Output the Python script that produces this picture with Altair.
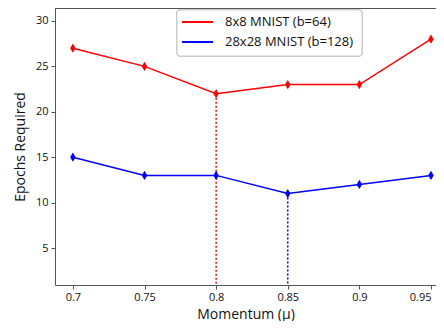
import altair as alt
import pandas as pd

momentum = [0.7, 0.75, 0.8, 0.85, 0.9, 0.95]
epochs_8x8 = [27, 25, 22, 23, 23, 28]
epochs_28x28 = [15, 13, 13, 11, 12, 13]
series_names = ["8x8 MNIST (b=64)", "28x28 MNIST (b=128)"]
series_colors = ["#ff0000", "#0000ff"]
best_momentum = [0.8, 0.85]
best_epochs = [22, 11]

Y_MIN, Y_MAX = 0.93, 31.43
X_MIN, X_MAX = 0.6875, 0.9535
W, H = 381, 277

rows = []
for m, a, b in zip(momentum, epochs_8x8, epochs_28x28):
    rows.append({"m": m, "e": a, "s": series_names[0]})
    rows.append({"m": m, "e": b, "s": series_names[1]})
df = pd.DataFrame(rows)
vdf = pd.DataFrame({"m": best_momentum, "e": best_epochs, "e0": [Y_MIN, Y_MIN], "s": series_names})

FONT = "Open Sans"
color = alt.Color("s:N", scale=alt.Scale(domain=series_names, range=series_colors), legend=None)
x = alt.X("m:Q", scale=alt.Scale(domain=[X_MIN, X_MAX], nice=False, zero=False),
          axis=alt.Axis(values=momentum, format="~g", title="Momentum (μ)", grid=False,
                        labelFont=FONT, labelFontSize=11, labelColor="#111", titleFont=FONT,
                        titleFontSize=14, titleFontWeight="normal", titleColor="#111",
                        domainColor="#555", tickColor="#555", tickSize=4, labelPadding=2,
                        titlePadding=5,
                        labelAlign={"condition": {"test": "datum.value > 0.94", "value": "right"},
                                    "value": "center"}))
y = alt.Y("e:Q", scale=alt.Scale(domain=[Y_MIN, Y_MAX], nice=False, zero=False),
          axis=alt.Axis(values=[5, 10, 15, 20, 25, 30], title="Epochs Required", grid=False,
                        labelFont=FONT, labelFontSize=11, labelColor="#111", titleFont=FONT,
                        titleFontSize=14, titleFontWeight="normal", titleColor="#111",
                        domainColor="#555", tickColor="#555", tickSize=4, labelPadding=3,
                        titlePadding=8))

lines = alt.Chart(df).mark_line(strokeWidth=1.5).encode(x=x, y=y, color=color, detail="s:N")
points = alt.Chart(df).mark_point(shape="M0,-1L0.6,0L0,1L-0.6,0Z", filled=True, size=85, opacity=1).encode(
    x="m:Q", y="e:Q", color=color)
vlines = alt.Chart(vdf).mark_rule(strokeDash=[2, 2], strokeWidth=1.5).encode(
    x="m:Q", y="e:Q", y2="e0:Q", color=color)
top = alt.Chart(df).mark_rule(color="#555", strokeWidth=1).encode(
    x=alt.value(0), x2=alt.value(W), y=alt.value(0))

# manual legend (matplotlib-style box)
LX, LY = 122, 2
box = alt.Chart(df).mark_rect(fill="white", stroke="#cccccc", strokeWidth=1, cornerRadius=3).encode(
    x=alt.value(LX), x2=alt.value(LX + 185), y=alt.value(LY), y2=alt.value(LY + 46))
leg_layers = [box]
for i, (name, col) in enumerate(zip(series_names, series_colors)):
    yy = LY + 12 + 20 * i
    leg_layers.append(alt.Chart(df).mark_rule(color=col, strokeWidth=2).encode(
        x=alt.value(LX + 5), x2=alt.value(LX + 36), y=alt.value(yy)))
    leg_layers.append(alt.Chart(pd.DataFrame({"t": [name]})).mark_text(
        font=FONT, fontSize=13, color="#111", align="left", baseline="middle").encode(
        text="t:N", x=alt.value(LX + 48), y=alt.value(yy)))

chart = alt.layer(vlines, lines, points, top, *leg_layers).properties(
    width=W, height=H, autosize=alt.AutoSizeParams(type="none"),
    padding={"left": 47, "top": 0, "right": 0, "bottom": 36}
).configure_view(stroke=None)

chart.save("out.html", embed_options={"renderer": "svg", "actions": False})
